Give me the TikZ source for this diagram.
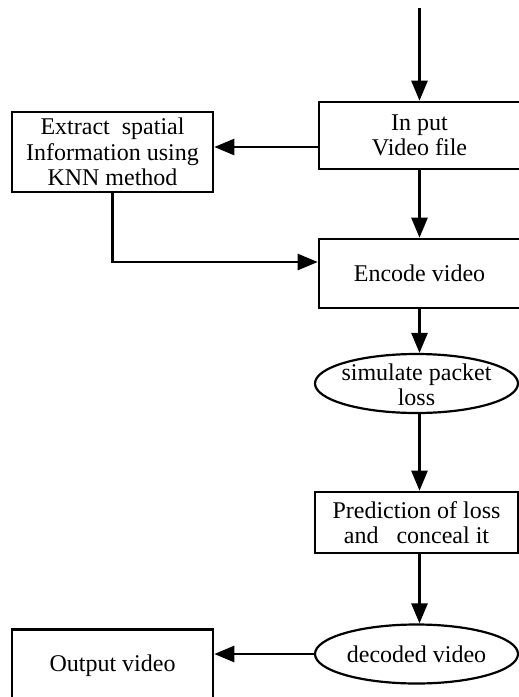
\documentclass[tikz,border=0pt]{standalone}
\usepackage{fontspec}
\setmainfont{Liberation Serif}
\usetikzlibrary{arrows.meta}
\usetikzlibrary{shapes.geometric}

\begin{document}
\begin{tikzpicture}[x=0.5pt, y=-0.5pt,
    box/.style={draw, line width=1.3pt, inner sep=0pt, align=center, font=\fontsize{12}{12.75}\selectfont},
    oval/.style={draw, ellipse, line width=1.1pt, inner sep=0pt, minimum width=101.5pt, minimum height=29.5pt},
    txt/.style={inner sep=0pt, align=center, font=\fontsize{12}{12.75}\selectfont},
    arr/.style={line width=1.3pt, -{Triangle[length=10pt, width=8pt]}}]
      \useasboundingbox (0,0) rectangle (519,697);

      \coordinate (start) at (419.5,8);
      \node[box, minimum width=100.5pt, minimum height=33.5pt] (input) at (419.5,135.5) {In put\\Video file};
      \node[box, minimum width=100.5pt, minimum height=40pt] (extract) at (112.5,152) {Extract\ \ spatial\\Information using\\KNN method};
      \node[box, minimum width=100.5pt, minimum height=34.5pt] (encode) at (419.5,273.5) {Encode video};
      \node[oval] (sim) at (416.5,383.5) {};
      \node[txt] (simtxt) at (416.5,385) {simulate packet\\loss};
      \node[box, minimum width=101.5pt, minimum height=30.5pt] (pred) at (416.5,522.5) {Prediction of loss\\and\ \ \ conceal it};
      \node[oval] (dec) at (416.5,654) {};
      \node[txt] (dectxt) at (dec) {decoded video};
      \node[box, minimum width=100.5pt, minimum height=36pt] (output) at (112.5,665.5) {Output video};

      \draw[arr] (start) -- (input.north);
      \draw[arr] ([yshift=-5.75pt]input.west) -- ([yshift=2.5pt]extract.east);
      \draw[arr] (input) -- (encode);
      \draw[arr] (extract.south) |- ([yshift=5.75pt]encode.west);
      \draw[arr] (encode.south) -- (encode.south |- sim.north);
      \draw[arr] (sim.south -| encode.south) -- (pred.north -| encode.south);
      \draw[arr] (pred.south -| encode.south) -- (dec.north -| encode.south);
      \draw[arr] (dec.west) -- (dec.west -| output.east);
    \end{tikzpicture}
\end{document}
